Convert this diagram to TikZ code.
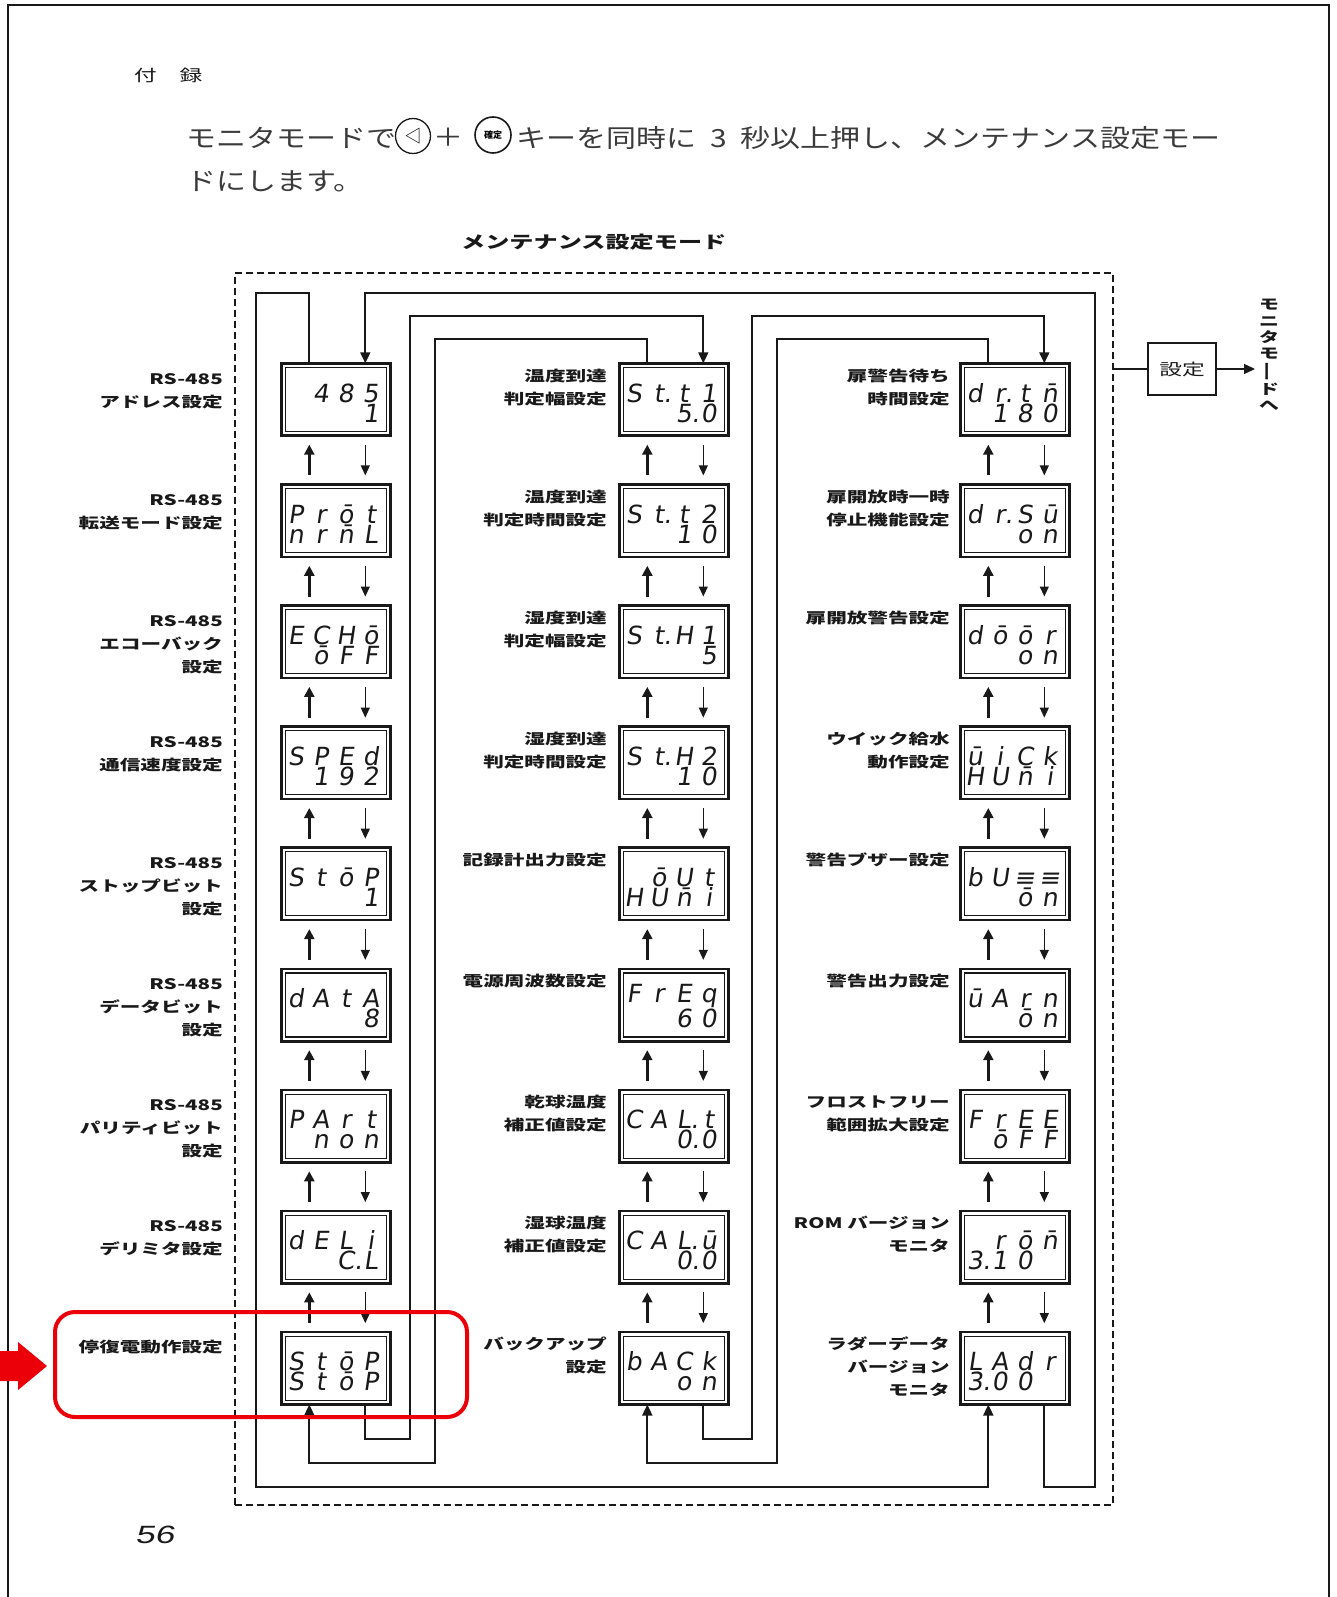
\documentclass[tikz,border=0pt]{standalone}
\usepackage{fontspec}
\usepackage{graphicx}
\usetikzlibrary{arrows.meta,calc}
\setmainfont{Noto Sans CJK JP}
\newfontfamily\lblf{Noto Sans CJK JP}[FakeStretch=1.42]
\newfontfamily\midf{Noto Sans CJK JP}[FakeStretch=1.2]
\newfontfamily\segf{DejaVu Sans}[FakeSlant=0.15]
\newfontfamily\pnumf{Liberation Sans}[FakeStretch=1.4,FakeSlant=0.2]
\definecolor{ink}{RGB}{25,25,25}
\definecolor{hlred}{RGB}{235,0,10}
\newcommand\sgc[1]{\makebox[25pt][c]{#1}}
\newcommand\sd[4]{\hspace*{3pt}\sgc{#1}\sgc{#2}\sgc{#3}\sgc{#4}}
\newcommand\dotc[1]{#1\rlap{.}}
\newcommand\dbox[5]{%
  \node[dispbox] (#1) at (#2+56,#3+37.5) {};
  \node[segtxt,anchor=base west] (#1t) at (#2,#3+60) {#4\\#5};}
\tikzset{
  dispbox/.style={draw=ink, line width=2.6pt, minimum width=109.4pt, minimum height=72.4pt,
    inner sep=0pt, outer sep=0pt,
    path picture={\draw[ink,line width=1.1pt]
      ([shift={(4.2pt,-4.2pt)}]path picture bounding box.north west) rectangle
      ([shift={(-4.2pt,4.2pt)}]path picture bounding box.south east);}},
  segtxt/.style={inner sep=0pt, align=left, text=ink, font=\segf\fontsize{25}{20}\selectfont},
  lbl/.style={inner sep=0pt, align=right, text=ink, font=\lblf\bfseries\fontsize{14.5}{23}\selectfont},
  uparr/.style={ink, line width=2.4pt, -{Triangle[length=10pt,width=10pt]}},
  dnarr/.style={ink, line width=1.2pt, -{Triangle[length=10pt,width=9pt]}},
  conn/.style={ink, line width=1.8pt, -{Triangle[length=11pt,width=10pt]}},
}
\begin{document}
\begin{tikzpicture}[x=1pt,y=-1pt]
\useasboundingbox (0,0) rectangle (1336,1597);
% page frame
\draw[ink,line width=2.2pt] (8,1597) -- (8,5) -- (1329,5) -- (1329,1597);
% heading texts
\node[anchor=base west,inner sep=0pt,text=ink,font=\lblf\fontsize{16}{16}\selectfont] (fu) at (134,82) {付　録};
\node[anchor=base west,inner sep=0pt,text=ink!85,font=\midf\fontsize{25}{25}\selectfont] (t1) at (186,148) {モニタモードで};
\node[circle,draw=ink,line width=1.3pt,minimum size=35pt,inner sep=0pt,font=\fontsize{17}{17}\selectfont] (k1) at (413,136) {◁};
\node[inner sep=0pt,text=ink!85,font=\midf\fontsize{25}{25}\selectfont] (pl) at (448,137) {＋};
\node[circle,draw=ink,line width=1.6pt,minimum size=36pt,inner sep=0pt,font=\bfseries\fontsize{9}{9}\selectfont] (k2) at (493,135) {確定};
\node[anchor=base west,inner sep=0pt,text=ink!85,font=\midf\fontsize{25}{25}\selectfont] (t2) at (516,148) {キーを同時に\hspace{14pt}3\hspace{14pt}秒以上押し、メンテナンス設定モー};
\node[anchor=base west,inner sep=0pt,text=ink!85,font=\midf\fontsize{25}{25}\selectfont] (t3) at (186,191) {ドにします。};
\node[anchor=base west,inner sep=0pt,text=ink,font=\lblf\bfseries\fontsize{17}{17}\selectfont] (mt) at (461,249) {メンテナンス設定モード};
% dashed frame
\node[draw=ink,line width=1.5pt,dash pattern=on 7pt off 4pt,minimum width=878pt,minimum height=1232pt,inner sep=0pt] (frame) at (674,889) {};
% display boxes, column 1
\dbox{c1-0}{280}{362.0}{\sd{}{4}{8}{5}}{\sd{}{}{}{1}}
\dbox{c1-1}{280}{483.1}{\sd{P}{r}{ō}{t}}{\sd{n}{r}{n̄}{L}}
\dbox{c1-2}{280}{604.2}{\sd{E}{C}{H}{ō}}{\sd{}{ō}{F}{F}}
\dbox{c1-3}{280}{725.3}{\sd{S}{P}{E}{d}}{\sd{}{1}{9}{2}}
\dbox{c1-4}{280}{846.4}{\sd{S}{t}{ō}{P}}{\sd{}{}{}{1}}
\dbox{c1-5}{280}{967.5}{\sd{d}{A}{t}{A}}{\sd{}{}{}{8}}
\dbox{c1-6}{280}{1088.6}{\sd{P}{A}{r}{t}}{\sd{}{n}{o}{n}}
\dbox{c1-7}{280}{1209.7}{\sd{d}{E}{L}{i}}{\sd{}{}{\dotc{C}}{L}}
\dbox{c1-8}{280}{1330.8}{\sd{S}{t}{ō}{P}}{\sd{S}{t}{ō}{P}}
% column 2
\dbox{c2-0}{618}{362.0}{\sd{S}{\dotc{t}}{t}{1}}{\sd{}{}{\dotc{5}}{0}}
\dbox{c2-1}{618}{483.1}{\sd{S}{\dotc{t}}{t}{2}}{\sd{}{}{1}{0}}
\dbox{c2-2}{618}{604.2}{\sd{S}{\dotc{t}}{H}{1}}{\sd{}{}{}{5}}
\dbox{c2-3}{618}{725.3}{\sd{S}{\dotc{t}}{H}{2}}{\sd{}{}{1}{0}}
\dbox{c2-4}{618}{846.4}{\sd{}{ō}{U}{t}}{\sd{H}{U}{n̄}{i}}
\dbox{c2-5}{618}{967.5}{\sd{F}{r}{E}{q}}{\sd{}{}{6}{0}}
\dbox{c2-6}{618}{1088.6}{\sd{C}{A}{\dotc{L}}{t}}{\sd{}{}{\dotc{0}}{0}}
\dbox{c2-7}{618}{1209.7}{\sd{C}{A}{\dotc{L}}{ū}}{\sd{}{}{\dotc{0}}{0}}
\dbox{c2-8}{618}{1330.8}{\sd{b}{A}{C}{k}}{\sd{}{}{o}{n}}
% column 3
\dbox{c3-0}{959}{362.0}{\sd{d}{\dotc{r}}{t}{n̄}}{\sd{}{1}{8}{0}}
\dbox{c3-1}{959}{483.1}{\sd{d}{\dotc{r}}{S}{ū}}{\sd{}{}{o}{n}}
\dbox{c3-2}{959}{604.2}{\sd{d}{ō}{ō}{r}}{\sd{}{}{o}{n}}
\dbox{c3-3}{959}{725.3}{\sd{ū}{i}{C}{k}}{\sd{H}{U}{n̄}{i}}
\dbox{c3-4}{959}{846.4}{\sd{b}{U}{≡}{≡}}{\sd{}{}{ō}{n}}
\dbox{c3-5}{959}{967.5}{\sd{ū}{A}{r}{n}}{\sd{}{}{ō}{n}}
\dbox{c3-6}{959}{1088.6}{\sd{F}{r}{E}{E}}{\sd{}{ō}{F}{F}}
\dbox{c3-7}{959}{1209.7}{\sd{}{r}{ō}{n̄}}{\sd{\dotc{3}}{1}{0}{}}
\dbox{c3-8}{959}{1330.8}{\sd{L}{A}{d}{r}}{\sd{\dotc{3}}{0}{0}{}}
% labels column 1 (base anchor = baseline of last line)
\node[lbl,anchor=base east] (l1-0) at (223,407.0) {RS-485\\アドレス設定};
\node[lbl,anchor=base east] (l1-1) at (223,528.1) {RS-485\\転送モード設定};
\node[lbl,anchor=base east] (l1-2) at (223,672.2) {RS-485\\エコーバック\\設定};
\node[lbl,anchor=base east] (l1-3) at (223,770.3) {RS-485\\通信速度設定};
\node[lbl,anchor=base east] (l1-4) at (223,914.4) {RS-485\\ストップビット\\設定};
\node[lbl,anchor=base east] (l1-5) at (223,1035.5) {RS-485\\データビット\\設定};
\node[lbl,anchor=base east] (l1-6) at (223,1156.6) {RS-485\\パリティビット\\設定};
\node[lbl,anchor=base east] (l1-7) at (223,1254.7) {RS-485\\デリミタ設定};
\node[lbl,anchor=base east] (l1-8) at (223,1352.8) {停復電動作設定};
% labels column 2
\node[lbl,anchor=base east] (l2-0) at (607,404.0) {温度到達\\判定幅設定};
\node[lbl,anchor=base east] (l2-1) at (607,525.1) {温度到達\\判定時間設定};
\node[lbl,anchor=base east] (l2-2) at (607,646.2) {湿度到達\\判定幅設定};
\node[lbl,anchor=base east] (l2-3) at (607,767.3) {湿度到達\\判定時間設定};
\node[lbl,anchor=base east] (l2-4) at (607,865.4) {記録計出力設定};
\node[lbl,anchor=base east] (l2-5) at (607,986.5) {電源周波数設定};
\node[lbl,anchor=base east] (l2-6) at (607,1130.6) {乾球温度\\補正値設定};
\node[lbl,anchor=base east] (l2-7) at (607,1251.7) {湿球温度\\補正値設定};
\node[lbl,anchor=base east] (l2-8) at (607,1372.8) {バックアップ\\設定};
% labels column 3
\node[lbl,anchor=base east] (l3-0) at (950,404.0) {扉警告待ち\\時間設定};
\node[lbl,anchor=base east] (l3-1) at (950,525.1) {扉開放時一時\\停止機能設定};
\node[lbl,anchor=base east] (l3-2) at (950,623.2) {扉開放警告設定};
\node[lbl,anchor=base east] (l3-3) at (950,767.3) {ウイック給水\\動作設定};
\node[lbl,anchor=base east] (l3-4) at (950,865.4) {警告ブザー設定};
\node[lbl,anchor=base east] (l3-5) at (950,986.5) {警告出力設定};
\node[lbl,anchor=base east] (l3-6) at (950,1130.6) {フロストフリー\\範囲拡大設定};
\node[lbl,anchor=base east] (l3-7) at (950,1251.7) {ROM バージョン\\モニタ};
\node[lbl,anchor=base east] (l3-8) at (950,1395.8) {ラダーデータ\\バージョン\\モニタ};
% short arrows between boxes
\foreach \c in {1,2,3}{\foreach \i in {0,...,7}{\pgfmathtruncatemacro\j{\i+1}
  \draw[uparr] ($(c\c-\j.north west)+(28,-9)$) -- ($(c\c-\i.south west)+(28,9)$);
  \draw[dnarr] ($(c\c-\i.south west)+(84,9)$) -- ($(c\c-\j.north west)+(84,-9)$);}}
% loop connectors
\draw[conn] ($(c1-0.north west)+(28,0)$) |- (256,293) -- (256,1487) -| ($(c3-8.south west)+(28,0)$);
\draw[conn] ($(c3-8.south west)+(84,0)$) |- (1095,1487) -- (1095,293) -| ($(c1-0.north west)+(84,0)$);
\draw[conn] ($(c1-8.south west)+(84,0)$) |- (410,1439) -- (410,316) -| ($(c2-0.north west)+(84,0)$);
\draw[conn] ($(c2-0.north west)+(28,0)$) |- (435,339) -- (435,1463) -| ($(c1-8.south west)+(28,0)$);
\draw[conn] ($(c2-8.south west)+(84,0)$) |- (752,1439) -- (752,316) -| ($(c3-0.north west)+(84,0)$);
\draw[conn] ($(c3-0.north west)+(28,0)$) |- (777,339) -- (777,1463) -| ($(c2-8.south west)+(28,0)$);
% exit to monitor mode
\node[draw=ink,line width=1.5pt,minimum width=68pt,minimum height=52pt,inner sep=0pt,text=ink,font=\lblf\fontsize{16}{16}\selectfont] (set) at (1182,369) {設定};
\draw[ink,line width=1.3pt] (frame.east |- set.west) -- (set.west);
\coordinate (exit) at (1255,369);
\draw[ink,line width=1.3pt,-{Triangle[length=11pt,width=10pt]}] (set.east) -- (exit);
\node[inner sep=0pt,align=center,text=ink,font=\lblf\bfseries\fontsize{14}{16.3}\selectfont] (mon) at (1269,355)
  {モ\\ニ\\タ\\モ\\\rotatebox[origin=c]{90}{ー}\\ド\\へ};
% page number
\node[anchor=base west,inner sep=0pt,text=ink,font=\pnumf\fontsize{25}{25}\selectfont] (pg) at (135,1543) {56};
% red highlight
\node[draw=hlred,line width=4pt,rounded corners=20pt,minimum width=412pt,minimum height=105pt,inner sep=0pt] (hl) at (261,1364.5) {};
\fill[hlred] (0,1351) -- (18,1351) -- (18,1342) -- (47,1366) -- (18,1390) -- (18,1381) -- (0,1381) -- cycle;
\end{tikzpicture}
\end{document}
